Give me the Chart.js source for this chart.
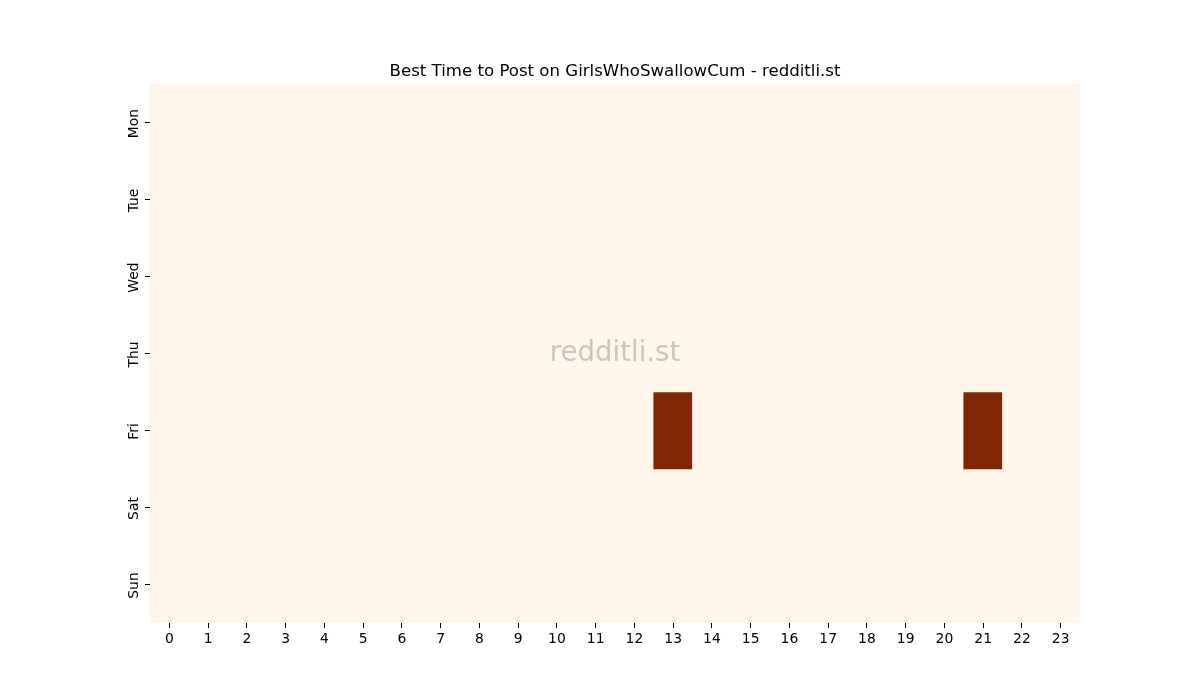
<!DOCTYPE html>
<html>
<head>
<meta charset="utf-8">
<script src="https://cdn.jsdelivr.net/npm/chart.js@4"></script>
<style>
  html, body { margin: 0; padding: 0; background: #ffffff; }
  #c { display: block; }
</style>
</head>
<body>
<canvas id="c" width="1200" height="700"></canvas>
<script>
const titleText = 'Best Time to Post on GirlsWhoSwallowCum - redditli.st';
const watermark = 'redditli.st';
const days = ['Mon', 'Tue', 'Wed', 'Thu', 'Fri', 'Sat', 'Sun'];
const hours = ['0','1','2','3','4','5','6','7','8','9','10','11','12','13','14','15','16','17','18','19','20','21','22','23'];
const mon = [0,0,0,0,0,0,0,0,0,0,0,0,0,0,0,0,0,0,0,0,0,0,0,0];
const tue = [0,0,0,0,0,0,0,0,0,0,0,0,0,0,0,0,0,0,0,0,0,0,0,0];
const wed = [0,0,0,0,0,0,0,0,0,0,0,0,0,0,0,0,0,0,0,0,0,0,0,0];
const thu = [0,0,0,0,0,0,0,0,0,0,0,0,0,0,0,0,0,0,0,0,0,0,0,0];
const fri = [0,0,0,0,0,0,0,0,0,0,0,0,0,1,0,0,0,0,0,0,0,1,0,0];
const sat = [0,0,0,0,0,0,0,0,0,0,0,0,0,0,0,0,0,0,0,0,0,0,0,0];
const sun = [0,0,0,0,0,0,0,0,0,0,0,0,0,0,0,0,0,0,0,0,0,0,0,0];
const rows = [mon, tue, wed, thu, fri, sat, sun];

// Oranges colormap stops
const oranges = [
  [255,245,235],[254,230,206],[253,208,162],[253,174,107],
  [253,141,60],[241,105,19],[217,72,1],[166,54,3],[127,39,4]
];
const vmin = Math.min(...rows.flat());
const vmax = Math.max(...rows.flat());
function cmap(v) {
  let t = vmax > vmin ? (v - vmin) / (vmax - vmin) : 0;
  const p = t * (oranges.length - 1);
  const i = Math.min(Math.floor(p), oranges.length - 2);
  const f = p - i;
  const a = oranges[i], b = oranges[i + 1];
  const c = a.map((x, k) => Math.round(x + (b[k] - x) * f));
  return 'rgb(' + c.join(',') + ')';
}

const datasets = rows.map((row, d) => ({
  label: days[d],
  data: row.map(() => [d - 0.5, d + 0.5]),
  backgroundColor: row.map(cmap),
  borderWidth: 0,
  categoryPercentage: 1.0,
  barPercentage: 1.0,
  grouped: false
}));

const FONT = 'DejaVu Sans';

const overlay = {
  id: 'overlay',
  afterDraw(chart) {
    const ctx = chart.ctx;
    const ca = chart.chartArea;
    const ys = chart.scales.y;
    ctx.save();
    // y tick labels rotated
    ctx.fillStyle = '#000';
    ctx.font = '13.9px "' + FONT + '"';
    days.forEach((lab, i) => {
      const y = ys.getPixelForValue(i);
      ctx.save();
      ctx.translate(ca.left - 9, y + 1);
      ctx.rotate(-Math.PI / 2);
      ctx.textAlign = 'center';
      ctx.textBaseline = 'bottom';
      ctx.fillText(lab, 0, 0);
      ctx.restore();
    });
    // title
    ctx.font = '16.6px "' + FONT + '"';
    ctx.textAlign = 'center';
    ctx.textBaseline = 'alphabetic';
    ctx.fillText(titleText, (ca.left + ca.right) / 2, ca.top - 8);
    // watermark
    ctx.font = '27.6px "' + FONT + '"';
    ctx.fillStyle = 'rgba(128,128,128,0.4)';
    ctx.textBaseline = 'middle';
    ctx.fillText(watermark, (ca.left + ca.right) / 2, (ca.top + ca.bottom) / 2);
    ctx.restore();
  }
};

new Chart(document.getElementById('c'), {
  type: 'bar',
  data: { labels: hours, datasets },
  plugins: [overlay],
  options: {
    responsive: false,
    devicePixelRatio: 1,
    animation: false,
    layout: { padding: { left: 100, right: 120, top: 84, bottom: 37 } },
    plugins: { legend: { display: false }, tooltip: { enabled: false }, title: { display: false } },
    scales: {
      x: {
        type: 'category',
        offset: true,
        grid: { display: true, offset: false, drawOnChartArea: false, drawTicks: true, tickLength: 5, color: '#000', lineWidth: 1 },
        border: { display: false },
        ticks: { color: '#000', font: { family: FONT, size: 13.9 }, padding: 3, maxRotation: 0, autoSkip: false },
        afterFit(s) { s.height = 40; }
      },
      y: {
        type: 'linear',
        min: -0.5,
        max: 6.5,
        reverse: true,
        afterBuildTicks(s) { s.ticks = days.map((_, i) => ({ value: i })); },
        grid: { display: true, drawOnChartArea: false, drawTicks: true, tickLength: 5, color: '#000', lineWidth: 1 },
        border: { display: false },
        ticks: { callback: () => '', color: '#000' },
        afterFit(s) { s.width = 50; }
      }
    }
  }
});
</script>
</body>
</html>
